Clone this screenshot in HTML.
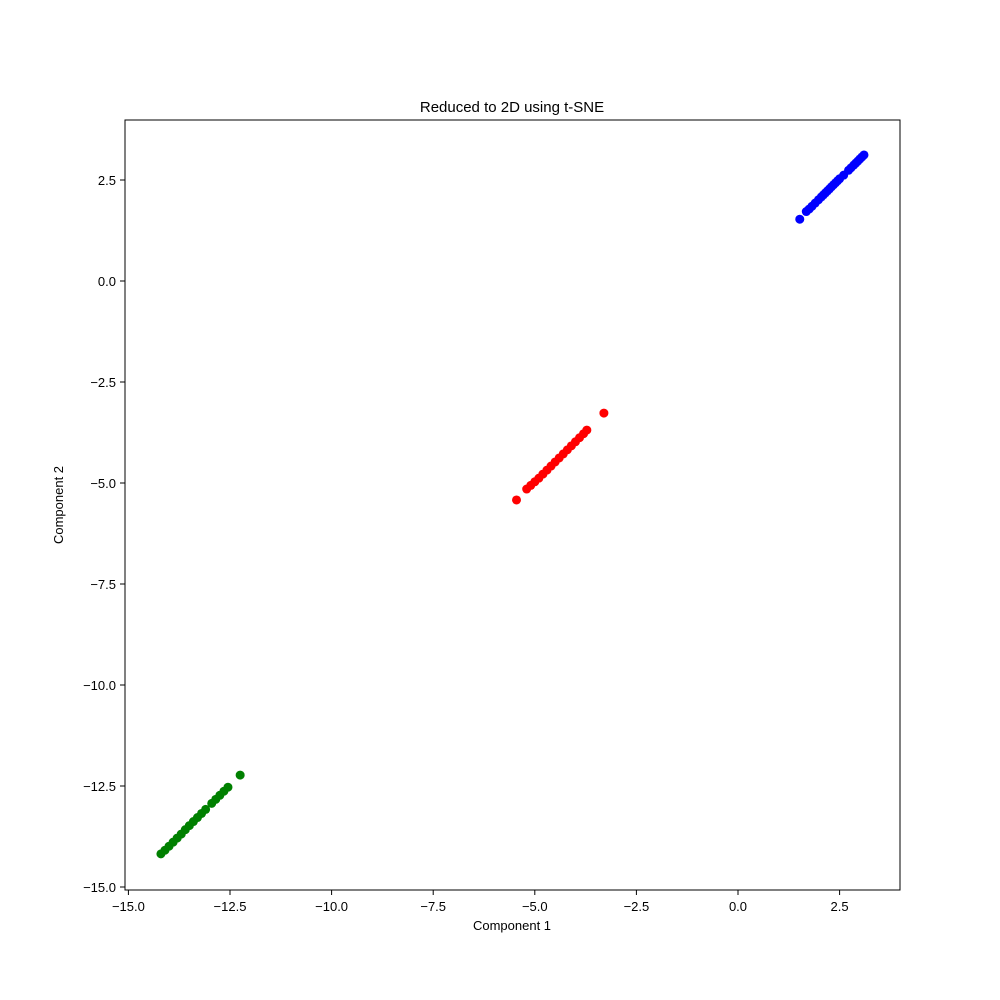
<!DOCTYPE html>
<html><head><meta charset="utf-8"><style>
body{margin:0;background:#fff}
svg{display:block;font-family:"Liberation Sans","DejaVu Sans",sans-serif}
</style></head><body>
<svg id="chart" width="1000" height="1000">
<rect width="1000" height="1000" fill="#fff"/>
<text x="512" y="112" text-anchor="middle" font-size="15">Reduced to 2D using t-SNE</text>
<g id="marks"></g>
<g id="axes"></g>
<rect x="125" y="120" width="775" height="770" fill="none" stroke="#000" stroke-width="1"/>
<text x="512" y="930" text-anchor="middle" font-size="13">Component 1</text>
<text x="63" y="505" text-anchor="middle" font-size="13" transform="rotate(-90 63 505)">Component 2</text>
</svg>
<script>
const xTicks=[-15,-12.5,-10,-7.5,-5,-2.5,0,2.5];
const xTickLabels=["\u221215.0","\u221212.5","\u221210.0","\u22127.5","\u22125.0","\u22122.5","0.0","2.5"];
const yTicks=[2.5,0,-2.5,-5,-7.5,-10,-12.5,-15];
const yTickLabels=["2.5","0.0","\u22122.5","\u22125.0","\u22127.5","\u221210.0","\u221212.5","\u221215.0"];
const blueX=[1.52,1.68,1.75,1.82,1.9,1.98,2.05,2.1,2.15,2.2,2.25,2.3,2.35,2.4,2.45,2.5,2.6,2.72,2.78,2.85,2.9,2.95,3.0,3.05,3.1];
const blueY=[1.53,1.72,1.78,1.85,1.93,2.01,2.08,2.13,2.18,2.23,2.28,2.33,2.38,2.43,2.48,2.53,2.62,2.74,2.8,2.87,2.92,2.97,3.02,3.07,3.12];
const redX=[-5.45,-5.2,-5.1,-5.0,-4.9,-4.8,-4.7,-4.6,-4.5,-4.4,-4.3,-4.2,-4.1,-4.0,-3.9,-3.8,-3.72,-3.3];
const redY=[-5.42,-5.15,-5.06,-4.97,-4.88,-4.78,-4.68,-4.58,-4.48,-4.38,-4.28,-4.18,-4.08,-3.98,-3.88,-3.78,-3.69,-3.27];
const greenX=[-14.2,-14.1,-14.0,-13.9,-13.8,-13.7,-13.6,-13.5,-13.4,-13.3,-13.2,-13.1,-12.95,-12.85,-12.75,-12.65,-12.55,-12.25];
const greenY=[-14.18,-14.09,-13.99,-13.89,-13.79,-13.69,-13.58,-13.48,-13.38,-13.28,-13.18,-13.08,-12.93,-12.83,-12.73,-12.63,-12.53,-12.23];
const NS="http://www.w3.org/2000/svg";
function sx(v){return 738+v*40.64;}
function sy(v){return 281-v*40.4;}
const marks=document.getElementById('marks');
function series(xs,ys,color,name){
  const g=document.createElementNS(NS,'g');
  
  
  xs.forEach((x,i)=>{
    const c=document.createElementNS(NS,'circle');
    c.setAttribute('cx',sx(x));c.setAttribute('cy',sy(ys[i]));c.setAttribute('r',4.5);c.setAttribute('fill',color);
    
    
    g.appendChild(c);
  });
  marks.appendChild(g);
}
series(greenX,greenY,'#008000','green');
series(redX,redY,'#ff0000','red');
series(blueX,blueY,'#0000ff','blue');
const axes=document.getElementById('axes');
xTicks.forEach((t,i)=>{
  const x=sx(t);
  const l=document.createElementNS(NS,'line');
  l.setAttribute('x1',x);l.setAttribute('x2',x);l.setAttribute('y1',890);l.setAttribute('y2',895);l.setAttribute('stroke','#000');
  
  
  axes.appendChild(l);
  const tx=document.createElementNS(NS,'text');
  tx.setAttribute('x',x);tx.setAttribute('y',911);tx.setAttribute('text-anchor','middle');tx.setAttribute('font-size','13');
  tx.textContent=xTickLabels[i];
  
  
  axes.appendChild(tx);
});
yTicks.forEach((t,i)=>{
  const y=sy(t);
  const l=document.createElementNS(NS,'line');
  l.setAttribute('x1',120);l.setAttribute('x2',125);l.setAttribute('y1',y);l.setAttribute('y2',y);l.setAttribute('stroke','#000');
  
  
  axes.appendChild(l);
  const tx=document.createElementNS(NS,'text');
  tx.setAttribute('x',116);tx.setAttribute('y',y+5);tx.setAttribute('text-anchor','end');tx.setAttribute('font-size','13');
  tx.textContent=yTickLabels[i];
  
  
  axes.appendChild(tx);
});
</script>
</body></html>
